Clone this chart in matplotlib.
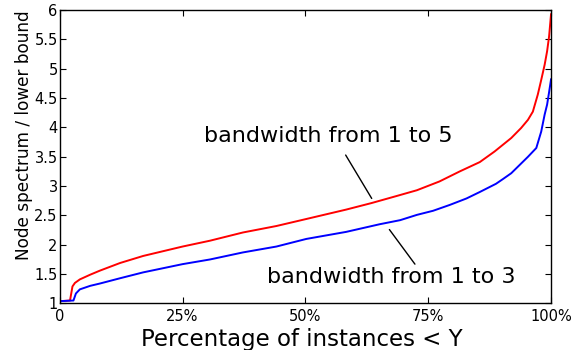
import matplotlib
matplotlib.use("Agg")
import matplotlib.pyplot as plt

# Data
red_x = [0.3, 2.1, 2.6, 3.1, 4.1, 6.2, 8.2, 12.3, 17.0, 25.0, 30.6, 37.3, 44.1, 50.2,
         58.3, 63.4, 68.5, 72.7, 77.3, 81.4, 85.5, 88.5, 91.9, 93.9, 95.3, 96.3, 97.3,
         98.0, 98.7, 99.2, 99.6, 100.0]
red_y = [1.04, 1.05, 1.29, 1.35, 1.41, 1.49, 1.56, 1.69, 1.81, 1.97, 2.07, 2.21, 2.32, 2.44,
         2.60, 2.71, 2.83, 2.93, 3.08, 3.25, 3.41, 3.59, 3.82, 3.99, 4.13, 4.27, 4.56,
         4.81, 5.07, 5.30, 5.55, 5.93]

blue_x = [0.3, 2.8, 3.3, 4.1, 6.2, 8.2, 12.3, 17.0, 25.0, 30.6, 37.3, 44.1, 50.2, 58.3,
          65.1, 69.3, 72.7, 76.0, 79.4, 82.8, 85.5, 88.8, 90.2, 91.9, 93.6, 95.3, 97.0,
          98.0, 98.7, 99.2, 99.6, 100.0]
blue_y = [1.04, 1.05, 1.17, 1.24, 1.30, 1.34, 1.43, 1.53, 1.67, 1.75, 1.87, 1.97, 2.10, 2.22,
          2.35, 2.42, 2.51, 2.58, 2.68, 2.79, 2.90, 3.04, 3.12, 3.22, 3.36, 3.50, 3.65,
          3.93, 4.22, 4.39, 4.60, 4.82]

x_ticks = [0, 25, 50, 75, 100]
x_tick_labels = ["0", "25%", "50%", "75%", "100%"]
y_ticks = [1, 1.5, 2, 2.5, 3, 3.5, 4, 4.5, 5, 5.5, 6]
y_tick_labels = ["1", "1.5", "2", "2.5", "3", "3.5", "4", "4.5", "5", "5.5", "6"]

red_label = "bandwidth from 1 to 5"
blue_label = "bandwidth from 1 to 3"
x_label = "Percentage of instances < Y"
y_label = "Node spectrum / lower bound"

fig = plt.figure(figsize=(5.74, 3.5), dpi=100)
ax = fig.add_axes([0.104, 0.133, 0.856, 0.838])

ax.plot(red_x, red_y, color="#ff0000", lw=1.4)
ax.plot(blue_x, blue_y, color="#0000ff", lw=1.4)

ax.set_xlim(0, 100)
ax.set_ylim(1, 6)
ax.set_xticks(x_ticks)
ax.set_xticklabels(x_tick_labels)
ax.set_yticks(y_ticks)
ax.set_yticklabels(y_tick_labels)
ax.tick_params(direction="in", length=4, width=0.8, top=True, right=True, labelsize=10.5)
ax.tick_params(axis="x", pad=4)
ax.tick_params(axis="y", pad=1.5)
for s in ax.spines.values():
    s.set_linewidth(1.0)

# annotations
ax.text(54.7, 3.76, red_label, ha="center", va="baseline", fontsize=16)
ax.annotate("", xy=(63.5, 2.79), xytext=(58.2, 3.53),
            arrowprops=dict(arrowstyle="-", color="black", lw=1.0, shrinkA=0, shrinkB=0))
ax.text(67.5, 1.35, blue_label, ha="center", va="baseline", fontsize=16)
ax.annotate("", xy=(72.3, 1.67), xytext=(67.1, 2.26),
            arrowprops=dict(arrowstyle="-", color="black", lw=1.0, shrinkA=0, shrinkB=0))

ax.set_xlabel(x_label, fontsize=16.5)
ax.xaxis.set_label_coords(0.4925, -0.083)
ax.set_ylabel(y_label, fontsize=12.2)
ax.yaxis.set_label_coords(-0.054, 0.574)

fig.savefig("out.png", dpi=100)
